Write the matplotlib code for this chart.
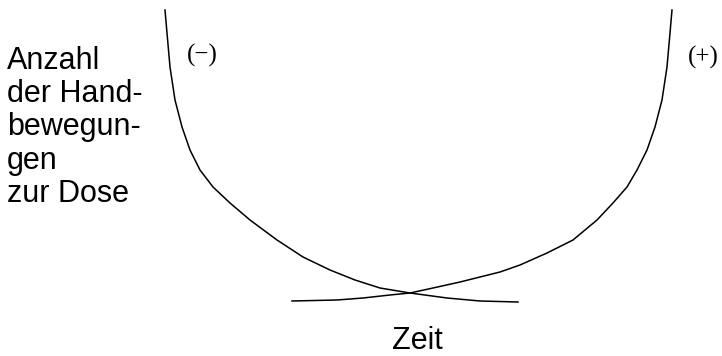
import matplotlib.pyplot as plt

# curves (x = time, y = count, in pixel units of the figure)
left_x = [165, 167, 170, 175, 182, 190, 200, 213, 230, 250, 277, 303, 330, 355, 380, 410, 447, 480, 518]
left_y = [346, 323, 289, 256, 229, 206, 186, 169, 153, 136, 116, 99, 86, 76, 68, 63, 58, 55, 54]

right_x = [292, 337, 363, 390, 410, 433, 460, 480, 500, 520, 547, 573, 597, 613, 627, 637, 647, 655, 662, 667, 670, 672]
right_y = [55, 56, 58, 61, 63, 68, 74, 79, 84, 91, 103, 116, 136, 153, 169, 186, 206, 229, 256, 289, 323, 346]

y_label = "Anzahl\nder Hand-\nbewegun-\ngen\nzur Dose"
x_label = "Zeit"
left_tag = "(\u2212)"
right_tag = "(+)"

fig = plt.figure(figsize=(7.22, 3.56), dpi=100)
ax = fig.add_axes([0, 0, 1, 1])
ax.set_xlim(0, 722)
ax.set_ylim(0, 356)
ax.axis('off')

ax.plot(left_x, left_y, color='black', lw=1.1)
ax.plot(right_x, right_y, color='black', lw=1.1)

ax.text(7, 310, y_label, family='Liberation Sans', fontsize=22,
        va='top', ha='left', linespacing=1.14)
ax.text(417, 15, x_label, family='Liberation Sans', fontsize=22,
        va='center', ha='center')
ax.text(202, 301, left_tag, family='Liberation Serif', fontsize=18,
        va='center', ha='center')
ax.text(703, 299, right_tag, family='Liberation Serif', fontsize=18,
        va='center', ha='center')

fig.savefig('out.png', dpi=100)
